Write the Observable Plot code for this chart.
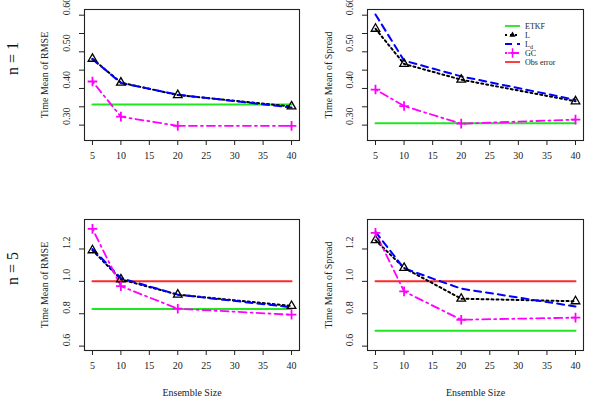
<!DOCTYPE html>
<html><head><meta charset="utf-8">
<script src="https://cdn.jsdelivr.net/npm/d3@7"></script>
<script src="https://cdn.jsdelivr.net/npm/@observablehq/plot@0.6"></script>
<style>
html,body{margin:0;padding:0;background:#fff;}
#wrap{position:relative;width:600px;height:397px;overflow:hidden;font-family:"Liberation Serif",serif;}
#wrap > svg{position:absolute;}
</style></head><body><div id="wrap"></div>
<script>
// ---------- data ----------
const ensembleSize = [5, 10, 20, 40];
const xTicks = [5, 10, 15, 20, 25, 30, 35, 40];

const rmseN1_L    = [0.481, 0.416, 0.382, 0.351];
const rmseN1_Ld   = [0.480, 0.415, 0.383, 0.348];
const rmseN1_GC   = [0.419, 0.323, 0.298, 0.298];
const rmseN1_ETKF = 0.356;

const spreadN1_L    = [0.563, 0.467, 0.424, 0.365];
const spreadN1_Ld   = [0.602, 0.476, 0.433, 0.369];
const spreadN1_GC   = [0.397, 0.352, 0.304, 0.315];
const spreadN1_ETKF = 0.305;

const rmseN5_L    = [1.192, 1.012, 0.918, 0.848];
const rmseN5_Ld   = [1.200, 1.020, 0.918, 0.840];
const rmseN5_GC   = [1.324, 0.970, 0.831, 0.794];
const rmseN5_ETKF = 0.829;

const spreadN5_L    = [1.254, 1.083, 0.893, 0.877];
const spreadN5_Ld   = [1.305, 1.080, 0.955, 0.845];
const spreadN5_GC   = [1.300, 0.938, 0.763, 0.776];
const spreadN5_ETKF = 0.695;

const obsError = 1.0;

const yTicksN1  = [0.30, 0.35, 0.40, 0.45, 0.50, 0.55, 0.60];
const yLabelsN1 = [0.30, 0.40, 0.50, 0.60];
const yTicksN5  = [0.6, 0.8, 1.0, 1.2];
const yLabelsN5 = [0.6, 0.8, 1.0, 1.2];

const legendLabels = ["ETKF", "L", "Ld", "GC", "Obs error"];

// ---------- styles ----------
const FONT = '"Liberation Serif", serif';
const C = {etkf: "#1fe61f", L: "#000000", Ld: "#0000ff", GC: "#ff00ff", obs: "#ff2a2a"};
const DASH = {L: "2,3", Ld: "7,5", GC: "2,4,8,4"};

const wrap = document.getElementById("wrap");

function panel(cfg) {
  const xy = vals => ensembleSize.map((x, i) => ({x, y: vals[i]}));
  const flat = v => ensembleSize.map(x => ({x, y: v}));
  const marks = [
    Plot.axisX({ticks: xTicks, tickSize: 5, tickPadding: 6, stroke: "#222",
      label: cfg.xLabel || null, labelAnchor: "center", labelOffset: 45, labelArrow: "none"}),
    Plot.axisY({ticks: cfg.yTicks, tickSize: 5, tickFormat: () => "", stroke: "#222",
      label: cfg.yTitle, labelAnchor: "center", labelOffset: cfg.yTitleOffset, labelArrow: "none"}),
    Plot.text(cfg.yLabels, {y: d => d, frameAnchor: "left", text: d => d.toFixed(cfg.digits),
      rotate: -90, dx: -18, fontSize: 10, fill: "#222"}),
    Plot.line(flat(cfg.etkf), {x: "x", y: "y", stroke: C.etkf, strokeWidth: 2})
  ];
  if (cfg.obs != null) marks.push(Plot.line(flat(cfg.obs), {x: "x", y: "y", stroke: C.obs, strokeWidth: 2}));
  marks.push(
    Plot.line(xy(cfg.L), {x: "x", y: "y", stroke: C.L, strokeWidth: 2, strokeDasharray: DASH.L}),
    Plot.line(xy(cfg.Ld), {x: "x", y: "y", stroke: C.Ld, strokeWidth: 2, strokeDasharray: DASH.Ld}),
    Plot.line(xy(cfg.GC), {x: "x", y: "y", stroke: C.GC, strokeWidth: 1.8, strokeDasharray: DASH.GC}),
    Plot.dot(xy(cfg.L), {x: "x", y: "y", symbol: "triangle", r: 3.2, stroke: "#000", strokeWidth: 1.3, fill: "none"}),
    Plot.dot(xy(cfg.GC), {x: "x", y: "y", symbol: "plus", r: 3.2, stroke: C.GC, strokeWidth: 1.8}),
    Plot.frame({stroke: "#222", strokeWidth: 1.1})
  );
  if (cfg.rowLabel) marks.push(Plot.text([cfg.rowLabel], {frameAnchor: "left", text: d => d,
    rotate: -90, dx: -72, fontSize: 16, fill: "#111"}));
  const svg = Plot.plot({
    width: cfg.width, height: cfg.height,
    marginLeft: cfg.ml, marginRight: cfg.mr, marginTop: cfg.mt, marginBottom: cfg.mb,
    x: {domain: [3.6, 41.4]},
    y: {domain: cfg.yDomain},
    style: {fontFamily: FONT, fontSize: "10px", color: "#222", background: "transparent", overflow: "visible"},
    marks
  });
  svg.style.left = cfg.left + "px";
  svg.style.top = cfg.top + "px";
  wrap.appendChild(svg);
}

const top1 = {yDomain: [0.258, 0.6155], yTicks: yTicksN1, yLabels: yLabelsN1, digits: 2, height: 200, mt: 9, mb: 60, top: 0};
const bot5 = {yDomain: [0.573, 1.382], yTicks: yTicksN5, yLabels: yLabelsN5, digits: 1, height: 197, mt: 19, mb: 47, top: 200, obs: obsError, xLabel: "Ensemble Size"};
const leftCol = {width: 300, ml: 84, mr: 1, left: 0, yTitleOffset: 44};
const rightCol = {width: 300, ml: 67, mr: 17, left: 300, yTitleOffset: 43};

panel({...top1, ...leftCol, yTitle: "Time Mean of RMSE", rowLabel: "n = 1",
  L: rmseN1_L, Ld: rmseN1_Ld, GC: rmseN1_GC, etkf: rmseN1_ETKF});
panel({...top1, ...rightCol, yTitle: "Time Mean of Spread",
  L: spreadN1_L, Ld: spreadN1_Ld, GC: spreadN1_GC, etkf: spreadN1_ETKF});
panel({...bot5, ...leftCol, yTitle: "Time Mean of RMSE", rowLabel: "n = 5",
  L: rmseN5_L, Ld: rmseN5_Ld, GC: rmseN5_GC, etkf: rmseN5_ETKF});
panel({...bot5, ...rightCol, yTitle: "Time Mean of Spread",
  L: spreadN5_L, Ld: spreadN5_Ld, GC: spreadN5_GC, etkf: spreadN5_ETKF});

// ---------- legend ----------
const legendStroke = [C.etkf, C.L, C.Ld, C.GC, C.obs];
const legendDash = [null, DASH.L, DASH.Ld, DASH.GC, null];
const legendSym = [null, "tri", null, "plus", null];
const lg = d3.select(wrap).append("svg")
  .style("left", "500px").style("top", "18px")
  .attr("width", 90).attr("height", 50)
  .style("font-family", FONT).style("font-size", "8px");
legendLabels.forEach((lab, i) => {
  const y = 8 + i * 9;
  const g = lg.append("g").attr("transform", `translate(0,${y})`);
  g.append("line").attr("x1", 5).attr("x2", 20).attr("y1", 0).attr("y2", 0)
    .attr("stroke", legendStroke[i]).attr("stroke-width", 1.8)
    .attr("stroke-dasharray", legendDash[i]);
  if (legendSym[i] === "tri") g.append("path").attr("transform", "translate(12.5,0)")
    .attr("d", d3.symbol(d3.symbolTriangle, 16)()).attr("fill", "#000");
  if (legendSym[i] === "plus") g.append("path").attr("transform", "translate(12.5,0)")
    .attr("d", d3.symbol(d3.symbolPlus, 30)()).attr("fill", "none").attr("stroke", C.GC).attr("stroke-width", 1.5);
  const t = g.append("text").attr("x", 25).attr("dy", "0.35em").attr("fill", "#222");
  if (lab === "Ld") {
    t.append("tspan").text("L");
    t.append("tspan").attr("dy", "2").attr("font-size", "6px").text("d");
  } else t.text(lab);
});
</script></body></html>
